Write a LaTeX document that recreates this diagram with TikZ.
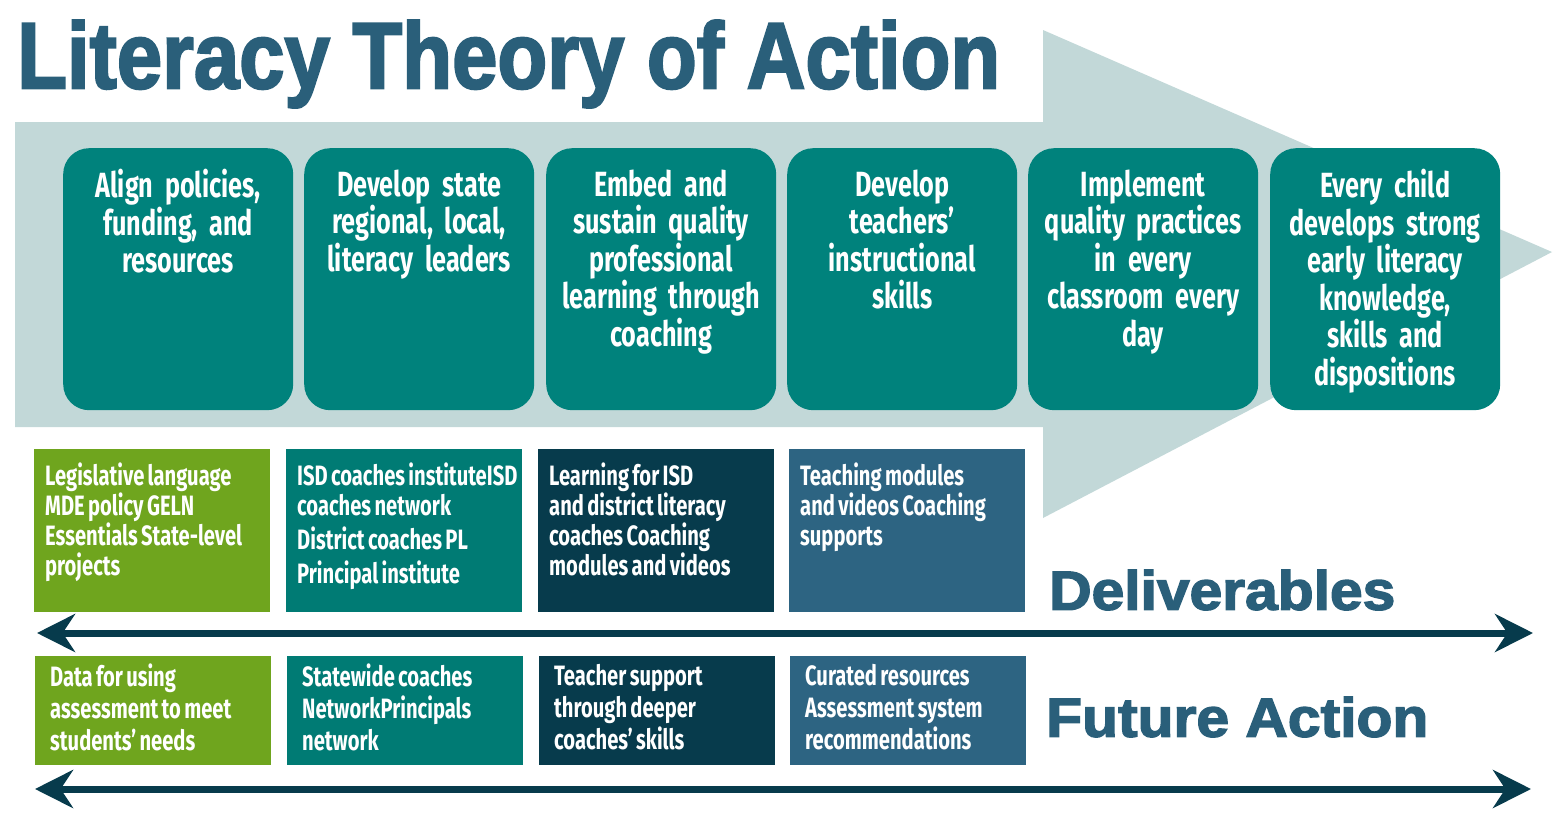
\documentclass[tikz,border=0pt]{standalone}
\usepackage{fontspec}
\setmainfont{Liberation Sans}
\newfontfamily\cond[FakeStretch=0.72,WordSpace=0.7]{Fira Sans}
\newfontfamily\heavy[FakeBold=2.5]{Liberation Sans Bold}
\usetikzlibrary{arrows.meta}
\definecolor{bgarrow}{HTML}{C2D8D8}
\definecolor{titleblue}{HTML}{2A5F7A}
\definecolor{tealA}{HTML}{00827C}
\definecolor{greenD}{HTML}{6FA51E}
\definecolor{tealD}{HTML}{007B74}
\definecolor{darkD}{HTML}{073B4C}
\definecolor{blueD}{HTML}{2D6482}
\tikzset{
 topbox/.style={fill=tealA,rounded corners=26pt,minimum width=230pt,minimum height=262pt,anchor=north west,inner sep=0pt},
 toptext/.style={anchor=north,text=white,font=\cond\bfseries\fontsize{35}{37.5}\selectfont,align=center,text width=228pt},
 lowbox/.style={anchor=north west,minimum width=236pt,inner sep=0pt},
 lowtext/.style={anchor=north west,text=white,font=\cond\bfseries\fontsize{28}{30}\selectfont,align=left,inner sep=0pt},
 darrow/.style={darkD,line width=7pt,{Stealth[length=38pt,width=38pt]}-{Stealth[length=38pt,width=38pt]}},
 label/.style={text=titleblue,anchor=west,inner sep=0pt}
}
\begin{document}
\begin{tikzpicture}[x=1pt,y=-1pt]
\useasboundingbox (0,0) rectangle (1557,819);
\fill[bgarrow] (15,122) -- (1043,122) -- (1043,30) -- (1552,252) -- (1043,518) -- (1043,427) -- (15,427) -- cycle;
\node[label] (title) at (17,64) {\resizebox{983pt}{68pt}{\heavy Literacy Theory of Action}};
\foreach \x/\t [count=\i] in {63/{Align policies,\\funding, and\\resources},304/{Develop state\\regional, local,\\literacy leaders},546/{Embed and\\sustain quality\\professional\\learning through\\coaching},787/{Develop\\teachers’\\instructional\\skills},1028/{Implement\\quality practices\\in every\\classroom every\\day},1270/{Every child\\develops strong\\early literacy\\knowledge,\\skills and\\dispositions}}{
 \node[topbox] (b\i) at (\x,148) {};
 \node[toptext] (t\i) at ([yshift=-18pt]b\i.north) {\t};
}
\foreach \x/\c/\t [count=\i] in {34/greenD/{Legislative language\\MDE policy GELN\\Essentials State-level\\projects},286/tealD/{ISD coaches instituteISD\\coaches network\\[4pt]District coaches PL\\[4pt]Principal institute},538/darkD/{Learning for ISD\\and district literacy\\coaches Coaching\\modules and videos},789/blueD/{Teaching modules\\and videos Coaching\\supports}}{
 \node[lowbox,fill=\c,minimum height=163pt] (d\i) at (\x,449) {};
 \node[lowtext] (dt\i) at ([xshift=11pt,yshift=-14pt]d\i.north west) {\t};
}
\foreach \x/\c/\t [count=\i] in {35/greenD/{Data for using\\assessment to meet\\students’ needs},287/tealD/{Statewide coaches\\NetworkPrincipals\\network},539/darkD/{Teacher support\\through deeper\\coaches’ skills},790/blueD/{Curated resources\\Assessment system\\recommendations}}{
 \node[lowbox,fill=\c,minimum height=109pt] (f\i) at (\x,656) {};
 \node[lowtext,font=\cond\bfseries\fontsize{28}{32}\selectfont] (ft\i) at ([xshift=15pt,yshift=-8pt]f\i.north west) {\t};
}
\node[label] (deliv) at (1049,590) {\resizebox{346pt}{40pt}{\heavy Deliverables}};
\node[label] (fut) at (1046,717) {\resizebox{382pt}{40pt}{\heavy Future Action}};
\coordinate (a1) at (37,633); \coordinate (a2) at (1533,633);
\coordinate (c1) at (35,789); \coordinate (c2) at (1531,789);
\draw[darrow] (a1) -- (a2);
\draw[darrow] (c1) -- (c2);
\end{tikzpicture}
\end{document}
